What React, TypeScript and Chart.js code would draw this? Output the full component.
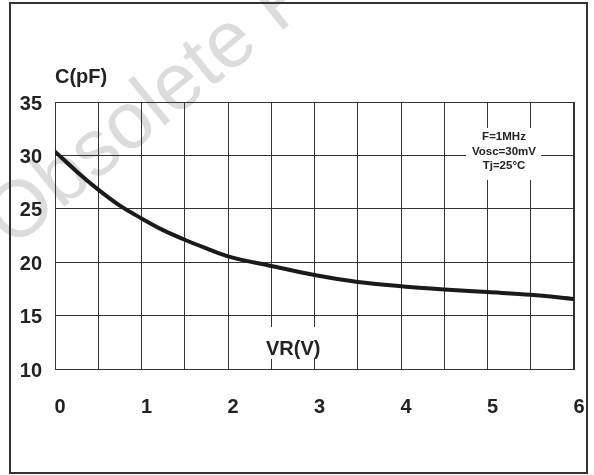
import { useEffect, useRef } from 'react';
import { Chart, registerables } from 'chart.js';

Chart.register(...registerables);

// Reverse voltage VR (V)
const vrValues = [0, 0.25, 0.5, 0.75, 1, 1.25, 1.5, 1.75, 2, 2.5, 3, 3.5, 4, 4.5, 5, 5.5, 6];
// Capacitance C (pF)
const capValues = [30.35, 28.5, 26.8, 25.3, 24.1, 23.0, 22.1, 21.3, 20.55, 19.65, 18.8, 18.15, 17.75, 17.45, 17.2, 16.95, 16.55];

const xMin = 0;
const xMax = 6;
const xGridStep = 0.5;
const yMin = 10;
const yMax = 35;
const yStep = 5;

const yTitle = 'C(pF)';
const xTitle = 'VR(V)';
const conditions = ['F=1MHz', 'Vosc=30mV', 'Tj=25°C'];
const watermark = 'Obsolete Product(s)';

const FONT = '"Liberation Sans", Arial, Helvetica, sans-serif';
const TEXT = '#222222';
const GRID = '#333333';

const decorPlugin = {
  id: 'decor',
  beforeDraw(chart: any) {
    const { ctx, width, height } = chart;
    ctx.save();
    ctx.fillStyle = '#ffffff';
    ctx.fillRect(0, 0, width, height);
    // watermark
    ctx.save();
    ctx.translate(-2, 232);
    ctx.rotate((-39 * Math.PI) / 180);
    ctx.font = `80px ${FONT}`;
    ctx.fillStyle = '#dcdcdc';
    ctx.textBaseline = 'middle';
    ctx.textAlign = 'left';
    ctx.fillText(watermark, 0, 0);
    ctx.restore();
    // outer frame
    ctx.strokeStyle = '#333333';
    ctx.lineWidth = 2;
    ctx.strokeRect(10, 3, 577, 470);
    ctx.restore();
  },
  beforeDatasetsDraw(chart: any) {
    const { ctx, chartArea } = chart;
    ctx.save();
    // plot frame
    ctx.strokeStyle = GRID;
    ctx.lineWidth = 1;
    ctx.strokeRect(chartArea.left + 0.5, chartArea.top + 0.5, chartArea.right - chartArea.left - 1, chartArea.bottom - chartArea.top);
    // white boxes
    ctx.fillStyle = '#ffffff';
    ctx.fillRect(466, 128, 75, 52);
    ctx.fillRect(262, 327, 63, 32);
    // titles
    ctx.fillStyle = TEXT;
    ctx.font = `bold 20px ${FONT}`;
    ctx.textBaseline = 'alphabetic';
    ctx.textAlign = 'left';
    ctx.fillText(yTitle, 55, 83);
    ctx.fillText(xTitle, 266, 355);
    // conditions
    ctx.font = `bold 11.5px ${FONT}`;
    ctx.textAlign = 'center';
    conditions.forEach((t, i) => ctx.fillText(t, 504, 140 + i * 14.6));
    ctx.restore();
  },
};

export default function App() {
  const ref = useRef<HTMLCanvasElement | null>(null);
  useEffect(() => {
    if (!ref.current) return;
    const chart = new Chart(ref.current, {
      type: 'line',
      data: {
        datasets: [
          {
            data: vrValues.map((x, i) => ({ x, y: capValues[i] })),
            borderColor: '#1a1a1a',
            borderWidth: 4,
            pointRadius: 0,
            cubicInterpolationMode: 'monotone',
            fill: false,
          },
        ],
      },
      options: {
        animation: false,
        responsive: true,
        maintainAspectRatio: false,
        layout: { padding: { top: 102, right: 20, left: 0, bottom: 0 } },
        plugins: { legend: { display: false }, tooltip: { enabled: false } },
        scales: {
          x: {
            type: 'linear',
            min: xMin,
            max: xMax,
            border: { display: true, color: GRID, width: 1 },
            grid: { color: GRID, lineWidth: 1, drawTicks: false },
            ticks: {
              stepSize: xGridStep,
              padding: 26,
              labelOffset: 5,
              color: TEXT,
              font: { family: FONT, size: 20, weight: 'bold' },
              maxRotation: 0,
              autoSkip: false,
              callback: (v: any) => (Number.isInteger(Number(v)) ? String(v) : ''),
            },
            afterFit: (s: any) => {
              s.height = 106;
              s.paddingLeft = 0;
              s.paddingRight = 0;
            },
          },
          y: {
            type: 'linear',
            min: yMin,
            max: yMax,
            border: { display: true, color: GRID, width: 1 },
            grid: { color: GRID, lineWidth: 1, drawTicks: false },
            ticks: {
              stepSize: yStep,
              padding: 13,
              labelOffset: 2,
              color: TEXT,
              font: { family: FONT, size: 20, weight: 'bold' },
            },
            afterFit: (s: any) => {
              s.width = 55;
              s.paddingTop = 0;
              s.paddingBottom = 0;
            },
          },
        },
      },
      plugins: [decorPlugin],
    } as any);
    return () => chart.destroy();
  }, []);
  return (
    <div style={{ position: 'fixed', left: 0, top: 0, width: 594, height: 475, background: '#fff' }}>
      <canvas ref={ref} />
    </div>
  );
}
